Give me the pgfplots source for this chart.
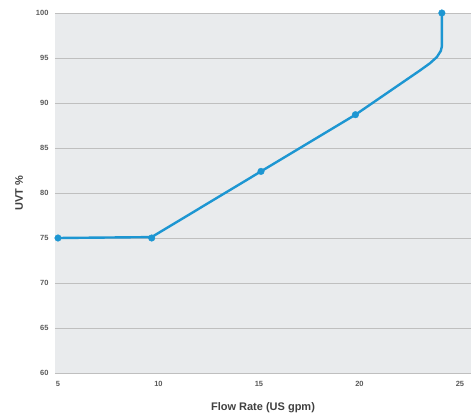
\documentclass[border=0pt]{standalone}
\usepackage{pgfplots}
\pgfplotsset{compat=1.18}
\usepackage{fontspec}
\setmainfont{Liberation Sans}
\definecolor{bg}{HTML}{E9EBED}
\definecolor{grid}{HTML}{C4C6C8}
\definecolor{line}{HTML}{1D96D2}
\definecolor{tick}{HTML}{5A5A5A}
\definecolor{lab}{HTML}{404040}
\begin{document}
\begin{tikzpicture}
\begin{axis}[
  name=ax,
  scale only axis,
  width=416pt, height=360pt,
  xmin=4.85, xmax=25.55,
  ymin=60, ymax=100,
  axis background/.style={fill=bg},
  axis line style={draw=none},
  xtick={5,10,15,20,25},
  ytick={60,65,70,75,80,85,90,95,100},
  xmajorgrids=false,
  ymajorgrids=true,
  grid style={grid, line width=0.9pt},
  major tick style={draw=none},
  major tick length=0pt,
  tick label style={font=\fontsize{7.5}{9}\selectfont\bfseries, text=tick},
  yticklabel style={xshift=-3pt},
  xticklabel style={yshift=-5pt},
  /pgf/number format/assume math mode=true,
  xlabel={Flow Rate (US gpm)},
  ylabel={UVT \%},
  label style={font=\fontsize{11}{13}\selectfont\bfseries, text=lab},
  xlabel style={yshift=-9pt},
  ylabel style={yshift=6pt},
  clip=false,
]
\addplot[line, line width=2.4pt, line join=round, no marks] coordinates {
(5,75) (9.66,75.1) (15.1,82.4) (19.8,88.7) (23.0,93.6) (23.5,94.4) (23.85,95.1) (24.05,95.8) (24.1,96.3) (24.1,100)
};
\addplot[only marks, mark=*, mark size=3.3pt, line, mark options={fill=line, draw=line}] coordinates {
(5,75) (9.66,75) (15.1,82.4) (19.8,88.7) (24.1,100)
};
\coordinate (bl) at (rel axis cs:0,0);
\coordinate (tr) at (rel axis cs:1,1);
\end{axis}
\pgfresetboundingbox
\path ([xshift=-55pt,yshift=-44pt]bl) rectangle ([yshift=13pt]tr);
\end{tikzpicture}
\end{document}
